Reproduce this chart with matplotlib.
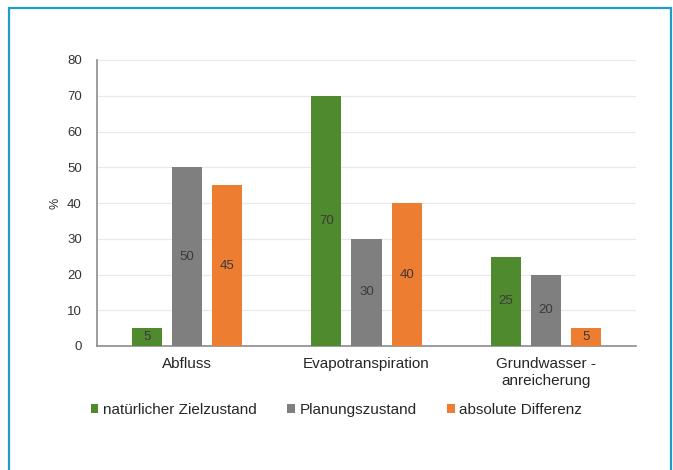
import matplotlib.pyplot as plt
import matplotlib.patches as patches
import numpy as np

plt.rcParams["font.family"] = ["Liberation Sans", "DejaVu Sans"]

categories = ["Abfluss", "Evapotranspiration", "Grundwasser -\nanreicherung"]
series_names = ["natürlicher Zielzustand", "Planungszustand", "absolute Differenz"]
ziel = [5, 70, 25]
planung = [50, 30, 20]
differenz = [45, 40, 5]
colors = ["#4f8a2f", "#7f7f7f", "#ed7d31"]

fig = plt.figure(figsize=(6.73, 4.70), dpi=100)
fig.patch.set_facecolor("white")

# frame around the figure (open at the bottom)
fig.add_artist(patches.Rectangle((9 / 673, -0.05), 662 / 673, 1.05 - 8 / 470,
                                 transform=fig.transFigure, fill=False,
                                 edgecolor="#1f9ccb", linewidth=1.6))

ax = fig.add_axes([97 / 673, 1 - 346 / 470, 539 / 673, 286 / 470])

x = np.arange(len(categories))
width = 0.167
offset = 0.223
for i, (vals, name) in enumerate(zip([ziel, planung, differenz], series_names)):
    bars = ax.bar(x + (i - 1) * offset, vals, width, color=colors[i], label=name, zorder=3)
    for b, v in zip(bars, vals):
        ax.text(b.get_x() + b.get_width() / 2, v / 2, str(v), ha="center", va="center",
                fontsize=9.5, color="#3a3a3a", zorder=4)

ax.set_xlim(-0.5, 2.5)
ax.set_ylim(0, 80)
ax.set_yticks(range(0, 81, 10))
ax.set_xticks(x)
ax.set_xticklabels(categories, fontsize=11, color="#262626", linespacing=1.25)
ax.tick_params(axis="y", length=0, labelsize=9.5, colors="#333333", pad=11)
ax.tick_params(axis="x", length=0, pad=8)
ax.set_ylabel("%", fontsize=9, color="#333333", labelpad=4)

ax.grid(axis="y", color="#e9e9e9", linewidth=0.9, zorder=0)
for s in ["top", "right"]:
    ax.spines[s].set_visible(False)
ax.spines["left"].set_color("#8c8c8c")
ax.spines["bottom"].set_color("#8c8c8c")
ax.spines["left"].set_linewidth(1.2)
ax.spines["bottom"].set_linewidth(1.2)

fig.legend(loc="center", bbox_to_anchor=(0.5, 1 - 410 / 470), ncol=3, frameon=False,
           fontsize=11, handlelength=0.5, handleheight=0.5, handletextpad=0.3,
           columnspacing=2.0, labelcolor="#262626")

fig.savefig("out.png", dpi=100)
